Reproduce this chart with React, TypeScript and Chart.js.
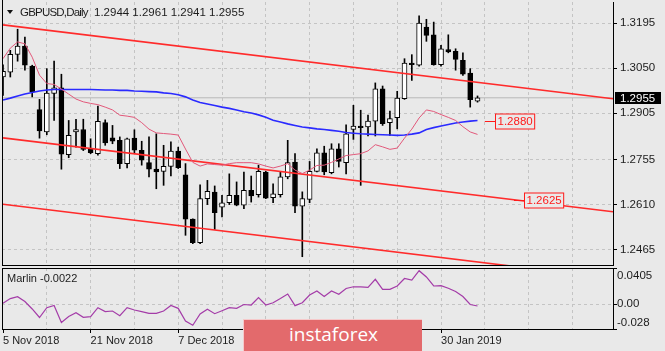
import React, { useEffect, useRef } from 'react';
import { Chart, registerables } from 'chart.js';

Chart.register(...registerables);

// ---------- data ----------
const OPEN = [1.3022, 1.3038, 1.3095, 1.3122, 1.3057, 1.2917, 1.2845, 1.2969, 1.2987, 1.2772,
  1.2845, 1.2853, 1.2789, 1.2775, 1.2875, 1.2826, 1.2818, 1.2743, 1.2825, 1.2786,
  1.2746, 1.2725, 1.2718, 1.2734, 1.2783, 1.2707, 1.2564, 1.2488, 1.2630, 1.2651,
  1.2603, 1.2617, 1.2641, 1.2609, 1.2657, 1.2643, 1.2716, 1.2633, 1.2643, 1.2700,
  1.2748, 1.2606, 1.2628, 1.2718, 1.2778, 1.2714, 1.2791, 1.2746, 1.2853, 1.2864,
  1.2861, 1.2880, 1.2984, 1.2875, 1.2891, 1.2952, 1.3067, 1.3060, 1.3183, 1.3158,
  1.3062, 1.3110, 1.3105, 1.3076, 1.3035, 1.2944];
const HIGH = [1.3061, 1.3108, 1.3176, 1.3151, 1.3060, 1.2950, 1.3049, 1.3073, 1.3031, 1.2882,
  1.2886, 1.2886, 1.2823, 1.2928, 1.2884, 1.2866, 1.2829, 1.2825, 1.2852, 1.2815,
  1.2829, 1.2839, 1.2802, 1.2813, 1.2796, 1.2743, 1.2565, 1.2675, 1.2689, 1.2671,
  1.2641, 1.2710, 1.2684, 1.2716, 1.2703, 1.2738, 1.2718, 1.2678, 1.2716, 1.2818,
  1.2775, 1.2652, 1.2750, 1.2791, 1.2799, 1.2807, 1.2807, 1.2868, 1.2931, 1.2915,
  1.2899, 1.3003, 1.2993, 1.2912, 1.2976, 1.3081, 1.3094, 1.3219, 1.3208, 1.3199,
  1.3124, 1.3158, 1.3113, 1.3100, 1.3049, 1.2961];
const LOW = [1.2963, 1.3022, 1.3073, 1.3044, 1.2958, 1.2825, 1.2836, 1.2882, 1.2725, 1.2762,
  1.2796, 1.2785, 1.2775, 1.2770, 1.2802, 1.2807, 1.2727, 1.2729, 1.2775, 1.2738,
  1.2700, 1.2662, 1.2673, 1.2703, 1.2727, 1.2512, 1.2485, 1.2485, 1.2611, 1.2531,
  1.2571, 1.2611, 1.2607, 1.2598, 1.2619, 1.2635, 1.2630, 1.2617, 1.2635, 1.2694,
  1.2585, 1.2443, 1.2617, 1.2716, 1.2707, 1.2710, 1.2732, 1.2710, 1.2821, 1.2673,
  1.2832, 1.2832, 1.2866, 1.2834, 1.2855, 1.2950, 1.3011, 1.3057, 1.3137, 1.3060,
  1.3057, 1.3100, 1.3044, 1.3027, 1.2925, 1.2941];
const CLOSE = [1.3040, 1.3095, 1.3122, 1.3060, 1.2974, 1.2848, 1.2970, 1.2987, 1.2773, 1.2834,
  1.2853, 1.2789, 1.2778, 1.2879, 1.2810, 1.2815, 1.2743, 1.2823, 1.2786, 1.2754,
  1.2725, 1.2716, 1.2734, 1.2783, 1.2730, 1.2564, 1.2488, 1.2630, 1.2654, 1.2585,
  1.2617, 1.2641, 1.2609, 1.2657, 1.2639, 1.2718, 1.2632, 1.2646, 1.2700, 1.2746,
  1.2606, 1.2630, 1.2718, 1.2778, 1.2716, 1.2791, 1.2750, 1.2839, 1.2864, 1.2859,
  1.2880, 1.2984, 1.2872, 1.2888, 1.2954, 1.3067, 1.3062, 1.3196, 1.3156, 1.3062,
  1.3113, 1.3103, 1.3079, 1.3031, 1.2949, 1.2955];

const MA_SLOW = [1.2948, 1.2954, 1.2961, 1.2967, 1.2972, 1.2977, 1.2980, 1.2982, 1.2982, 1.2982,
  1.2982, 1.2982, 1.2982, 1.2981, 1.2980, 1.2980, 1.2979, 1.2979, 1.2977, 1.2976,
  1.2975, 1.2974, 1.2971, 1.2969, 1.2965, 1.2958, 1.2948, 1.2940, 1.2935, 1.2930,
  1.2925, 1.2921, 1.2916, 1.2910, 1.2906, 1.2900, 1.2892, 1.2883, 1.2877, 1.2871,
  1.2866, 1.2861, 1.2858, 1.2855, 1.2853, 1.2850, 1.2847, 1.2843, 1.2841, 1.2839,
  1.2838, 1.2837, 1.2836, 1.2835, 1.2834, 1.2835, 1.2838, 1.2842, 1.2853, 1.2859,
  1.2864, 1.2869, 1.2874, 1.2877, 1.2880, 1.2882];
const MA_FAST = [1.3081, 1.3115, 1.3135, 1.3129, 1.3086, 1.3028, 1.3001, 1.2998, 1.2983, 1.2967,
  1.2951, 1.2942, 1.2937, 1.2933, 1.2925, 1.2916, 1.2899, 1.2896, 1.2892, 1.2875,
  1.2854, 1.2842, 1.2840, 1.2838, 1.2835, 1.2790, 1.2747, 1.2735, 1.2742, 1.2740,
  1.2738, 1.2743, 1.2746, 1.2746, 1.2746, 1.2742, 1.2735, 1.2729, 1.2735, 1.2743,
  1.2722, 1.2711, 1.2722, 1.2737, 1.2738, 1.2747, 1.2758, 1.2769, 1.2772, 1.2775,
  1.2784, 1.2804, 1.2797, 1.2789, 1.2793, 1.2825, 1.2854, 1.2890, 1.2916, 1.2911,
  1.2901, 1.2892, 1.2882, 1.2862, 1.2845, 1.2837];
const MARLIN = [0.0009, 0.0062, 0.0083, 0.0029, -0.0055, -0.0151, -0.0041, -0.0016, -0.0207, -0.0140,
  -0.0097, -0.0149, -0.0142, -0.0041, -0.0084, -0.0078, -0.0131, -0.0041, -0.0067, -0.0084,
  -0.0104, -0.0104, -0.0078, -0.0016, -0.0048, -0.0190, -0.0238, -0.0112, -0.0059, -0.0108,
  -0.0075, -0.0041, -0.0048, -0.0005, -0.0011, 0.0072, -0.0011, 0.0015, 0.0062, 0.0113,
  -0.0018, 0.0015, 0.0102, 0.0147, 0.0085, 0.0147, 0.0110, 0.0175, 0.0194, 0.0192,
  0.0188, 0.0278, 0.0166, 0.0166, 0.0203, 0.0287, 0.0270, 0.0375, 0.0304, 0.0203,
  0.0206, 0.0177, 0.0141, 0.0085, -0.0005, -0.0022];

const X_TICK_LABELS = ['5 Nov 2018', '21 Nov 2018', '7 Dec 2018', '26 Dec 2018', '14 Jan 2019', '30 Jan 2019'];
const PRICE_TICKS = [1.3195, 1.3050, 1.2905, 1.2755, 1.2610, 1.2465];
const MARLIN_TICKS = [0.0405, 0, -0.028];
const MARLIN_TICK_LABELS = ['0.0405', '0.00', '-0.028'];

const CHANNEL_X = [0, 83.56];
const CHANNEL_UPPER = [1.3190, 1.2952];
const CHANNEL_MIDDLE = [1.2826, 1.2588];
const CHANNEL_LOWER = [1.2612, 1.2373];

const BID = 1.2955;
const LEVELS = [1.2880, 1.2625];
const LEVEL_ANCHOR_X = [66, 70];

const TITLE_SYMBOL = 'GBPUSD,Daily';
const TITLE_OHLC = [1.2944, 1.2961, 1.2941, 1.2955];
const MARLIN_NAME = 'Marlin';
const MARLIN_LAST = -0.0022;
const BRAND = 'instaforex';

// ---------- scale ranges & styling ----------
const X_MIN = -0.137;
const X_MAX = 83.56;
const Y_MIN = 1.24163;
const Y_MAX = 1.32637;
const M_MIN = -0.028;
const M_MAX = 0.0405;

const BG = '#e9e9e9';
const GRID = '#c4c4c4';
const TEXT = '#1c1c1c';
const FAMILY = '"Liberation Sans", Arial, sans-serif';
const GRID_STEP = 6;
const LABEL_STEP = 12;

const gridValues = () => {
  const v: number[] = [];
  for (let i = GRID_STEP; i < X_MAX; i += GRID_STEP) v.push(i);
  return v;
};

const framePlugin = (withTop: boolean) => ({
  id: 'frame',
  afterDatasetsDraw(chart: any) {
    const { ctx, chartArea: a } = chart;
    ctx.save();
    ctx.strokeStyle = '#000';
    ctx.lineWidth = 1;
    ctx.beginPath();
    const lx = Math.round(a.left) + 0.5;
    ctx.moveTo(lx, a.top - (withTop ? 0 : 2));
    ctx.lineTo(lx, a.bottom + 1);
    if (withTop) {
      const ty = Math.round(a.top) + 0.5;
      ctx.moveTo(a.left, ty);
      ctx.lineTo(a.right + 1, ty);
    }
    ctx.stroke();
    ctx.restore();
  },
});

const priceLabelsPlugin = {
  id: 'priceLabels',
  afterDraw(chart: any) {
    const { ctx, chartArea: a, scales } = chart;
    const x = scales.x;
    const y = scales.y;
    ctx.save();
    ctx.font = `11.5px ${FAMILY}`;
    ctx.textBaseline = 'middle';
    ctx.textAlign = 'left';
    // current price box
    const py = Math.round(y.getPixelForValue(BID));
    ctx.fillStyle = '#000';
    ctx.fillRect(a.right + 2, py - 6, 46, 12);
    ctx.fillStyle = '#fff';
    ctx.fillText(BID.toFixed(4), a.right + 7, py + 0.5);
    // level labels
    LEVELS.forEach((lv, k) => {
      const txt = lv.toFixed(4);
      const ly = Math.round(y.getPixelForValue(lv)) + 0.5;
      const x0 = x.getPixelForValue(LEVEL_ANCHOR_X[k]);
      const bx = Math.round(x0 + 10) + 0.5;
      const tw = ctx.measureText(txt).width;
      ctx.strokeStyle = '#ff1a1a';
      ctx.lineWidth = 1;
      ctx.beginPath();
      ctx.moveTo(x0, ly);
      ctx.lineTo(bx, ly);
      ctx.stroke();
      ctx.fillStyle = BG;
      ctx.fillRect(bx, ly - 7.5, tw + 4, 15);
      ctx.strokeRect(bx, ly - 7.5, tw + 4, 15);
      ctx.fillStyle = '#ff1a1a';
      ctx.fillText(txt, bx + 2, ly + 0.5);
    });
    ctx.restore();
  },
};

const marlinLabelsPlugin = {
  id: 'marlinLabels',
  afterDraw(chart: any) {
    const { ctx, chartArea: a, scales } = chart;
    const y = scales.y;
    const offs = [8, 0, -6.5];
    ctx.save();
    ctx.font = `11.5px ${FAMILY}`;
    ctx.fillStyle = TEXT;
    ctx.textBaseline = 'middle';
    ctx.textAlign = 'left';
    MARLIN_TICKS.forEach((v, i) => {
      ctx.fillText(MARLIN_TICK_LABELS[i], a.right + 4, y.getPixelForValue(v) + offs[i]);
    });
    ctx.restore();
  },
};

function mainConfig(): any {
  const idx = OPEN.map((_, i) => i);
  return {
    type: 'bar',
    data: {
      datasets: [
        {
          type: 'line', label: 'MA fast', data: idx.map(i => ({ x: i, y: MA_FAST[i] })),
          borderColor: '#e2587a', borderWidth: 1, pointRadius: 0, tension: 0, order: 0,
        },
        {
          type: 'line', label: 'MA slow', data: idx.map(i => ({ x: i, y: MA_SLOW[i] })),
          borderColor: '#2a2aff', borderWidth: 1.6, pointRadius: 0, tension: 0, order: 1,
        },
        ...[CHANNEL_UPPER, CHANNEL_MIDDLE, CHANNEL_LOWER].map((ch, k) => ({
          type: 'line', label: 'channel' + k, data: CHANNEL_X.map((cx, j) => ({ x: cx, y: ch[j] })),
          borderColor: '#ff2b2b', borderWidth: 1.6, pointRadius: 0, order: 2, clip: 0,
        })),
        {
          type: 'bar', label: 'body', data: idx.map(i => ({ x: i, y: [OPEN[i], CLOSE[i]] })),
          backgroundColor: idx.map(i => (CLOSE[i] >= OPEN[i] ? '#ffffff' : '#000000')),
          borderColor: '#000', borderWidth: 1, borderSkipped: false, barThickness: 5,
          minBarLength: 1, grouped: false, order: 3,
        },
        {
          type: 'bar', label: 'wick', data: idx.map(i => ({ x: i, y: [LOW[i], HIGH[i]] })),
          backgroundColor: '#000', borderWidth: 0, barThickness: 1, grouped: false, order: 4,
        },
        {
          type: 'line', label: 'bid', data: [{ x: X_MIN, y: BID }, { x: X_MAX, y: BID }],
          borderColor: '#b8b8b8', borderWidth: 1, pointRadius: 0, order: 5,
        },
      ],
    },
    options: {
      animation: false,
      responsive: false,
      events: [],
      layout: { padding: { left: 2, top: 2, right: 0, bottom: 0 } },
      plugins: { legend: { display: false }, tooltip: { enabled: false } },
      scales: {
        x: {
          type: 'linear', min: X_MIN, max: X_MAX, offset: false,
          grid: { offset: false, color: GRID, drawTicks: false, lineWidth: 1 },
          border: { display: true, color: '#000', width: 1, dash: [3, 3] },
          ticks: { display: false },
          afterBuildTicks: (s: any) => { s.ticks = gridValues().map(v => ({ value: v })); },
          afterFit: (s: any) => { s.height = 1; s.paddingLeft = 0; s.paddingRight = 0; },
        },
        y: {
          type: 'linear', position: 'right', min: Y_MIN, max: Y_MAX, beginAtZero: false,
          grid: { color: GRID, tickColor: '#000', tickLength: 4, lineWidth: 1 },
          border: { display: true, color: '#000', width: 1, dash: [3, 3] },
          ticks: {
            font: { family: FAMILY, size: 11.5 }, color: TEXT, padding: 3,
            callback: (v: any) => Number(v).toFixed(4),
          },
          afterBuildTicks: (s: any) => { s.ticks = PRICE_TICKS.map(v => ({ value: v })); },
          afterFit: (s: any) => { s.width = 52; s.paddingTop = 0; s.paddingBottom = 0; },
        },
      },
    },
    plugins: [framePlugin(false), priceLabelsPlugin],
  };
}

function marlinConfig(): any {
  const isLabelTick = (v: number) => v % LABEL_STEP === 0 && v / LABEL_STEP < X_TICK_LABELS.length;
  return {
    type: 'line',
    data: {
      datasets: [
        {
          label: MARLIN_NAME, data: MARLIN.map((v, i) => ({ x: i, y: v })),
          borderColor: '#a43ca8', borderWidth: 1.2, pointRadius: 0, tension: 0,
        },
      ],
    },
    options: {
      animation: false,
      responsive: false,
      events: [],
      layout: { padding: { left: 2, top: 2, right: 0, bottom: 0 } },
      plugins: { legend: { display: false }, tooltip: { enabled: false } },
      scales: {
        x: {
          type: 'linear', min: X_MIN, max: X_MAX, offset: false,
          grid: {
            offset: false,
            color: (c: any) => (c.tick && c.tick.value === 0 ? 'rgba(0,0,0,0)' : GRID),
            tickColor: (c: any) => (c.tick && isLabelTick(c.tick.value) ? '#000' : 'rgba(0,0,0,0)'),
            tickLength: 4, drawTicks: true,
          },
          border: { display: true, color: '#000', width: 1, dash: [3, 3] },
          ticks: {
            autoSkip: false, maxRotation: 0, align: 'start', padding: 1,
            font: { family: FAMILY, size: 11 }, color: TEXT,
            callback: (v: any) => (isLabelTick(v) ? X_TICK_LABELS[v / LABEL_STEP] : ''),
          },
          afterBuildTicks: (s: any) => { s.ticks = [0, ...gridValues()].map(v => ({ value: v })); },
          afterFit: (s: any) => { s.height = 22; s.paddingLeft = 0; s.paddingRight = 0; },
        },
        y: {
          type: 'linear', position: 'right', min: M_MIN, max: M_MAX,
          grid: {
            color: (c: any) => (c.tick && c.tick.value === 0 ? GRID : 'rgba(0,0,0,0)'),
            tickColor: '#000', tickLength: 4,
          },
          border: { display: true, color: '#000', width: 1, dash: [3, 3] },
          ticks: { display: false },
          afterBuildTicks: (s: any) => { s.ticks = MARLIN_TICKS.map(v => ({ value: v })); },
          afterFit: (s: any) => { s.width = 52; s.paddingTop = 0; s.paddingBottom = 0; },
        },
      },
    },
    plugins: [framePlugin(true), marlinLabelsPlugin],
  };
}

export default function App() {
  const mainRef = useRef<HTMLCanvasElement>(null);
  const subRef = useRef<HTMLCanvasElement>(null);

  useEffect(() => {
    const c1 = new Chart(mainRef.current as HTMLCanvasElement, mainConfig());
    const c2 = new Chart(subRef.current as HTMLCanvasElement, marlinConfig());
    return () => {
      c1.destroy();
      c2.destroy();
    };
  }, []);

  return (
    <div
      style={{
        position: 'fixed', left: 0, top: 0, width: 665, height: 351, background: BG,
        overflow: 'hidden', fontFamily: FAMILY, color: TEXT,
      }}
    >
      <canvas ref={mainRef} width={665} height={266} style={{ position: 'absolute', left: 0, top: 0 }} />
      <canvas ref={subRef} width={665} height={85} style={{ position: 'absolute', left: 0, top: 266 }} />
      <div
        style={{
          position: 'absolute', left: 7, top: 10, width: 0, height: 0,
          borderLeft: '3.5px solid transparent', borderRight: '3.5px solid transparent',
          borderTop: '4px solid #111',
        }}
      />
      <div style={{ position: 'absolute', left: 20, top: 6, fontSize: 11.5, lineHeight: '12px', letterSpacing: '-0.8px', whiteSpace: 'pre' }}>
        {TITLE_SYMBOL}
      </div>
      <div style={{ position: 'absolute', left: 94, top: 6, fontSize: 11.5, lineHeight: '12px', whiteSpace: 'pre' }}>
        {TITLE_OHLC.map(v => v.toFixed(4)).join(' ')}
      </div>
      <div style={{ position: 'absolute', left: 7, top: 272, fontSize: 11, lineHeight: '12px', whiteSpace: 'pre' }}>
        {`${MARLIN_NAME} ${MARLIN_LAST.toFixed(4)}`}
      </div>
      <div
        style={{
          position: 'absolute', left: 243, top: 319, width: 179, height: 34, boxSizing: 'border-box',
          background: '#e36a6c', borderTop: '1.5px solid #f6c9ca', borderLeft: '1.5px solid #f6c9ca',
        }}
      >
        <span
          style={{
            position: 'absolute', left: 45, top: 5, fontSize: 19, lineHeight: '19px',
            fontFamily: '"Open Sans", "Noto Sans", sans-serif', color: '#ffffff', whiteSpace: 'pre',
          }}
        >
          {BRAND}
        </span>
      </div>
    </div>
  );
}
